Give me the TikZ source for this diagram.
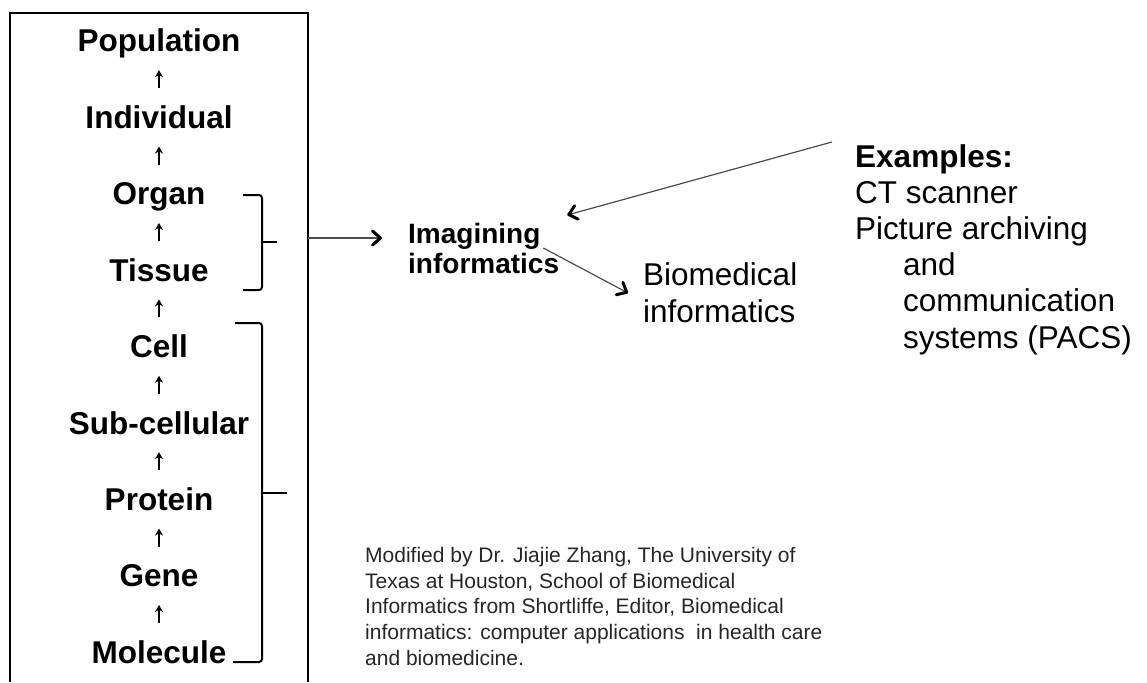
\documentclass[tikz,border=0pt]{standalone}
\usepackage{fontspec}
\setmainfont{Liberation Sans}
\usetikzlibrary{arrows.meta,calc}

\begin{document}
\begin{tikzpicture}[x=1pt,y=-1pt,
  level/.style={font=\fontsize{31.5}{36}\selectfont\bfseries, inner sep=0pt, anchor=base},
  uparrow/.style={line width=1.7pt, -{Stealth[length=7pt,width=8pt]}},
  brace/.style={line width=2pt, rounded corners=3pt},
  frame/.style={line width=2pt},
  link/.style={line width=1.2pt, draw=black!70,
    -{Straight Barb[length=8pt,width=14pt,line width=3pt,round,color=black]}},
  textblock/.style={anchor=north west, inner sep=0pt, align=left}
]
\useasboundingbox (0,0) rectangle (1147,682);
\fill[white] (0,0) rectangle (1147,682);

% open frame around the hierarchy
\draw[frame] (10,682) -- (10,13) -- (308,13) -- (308,682);

% levels of the hierarchy, top to bottom
\foreach \name/\txt [count=\i from 0] in
  {pop/Population, ind/Individual, org/Organ, tis/Tissue, cel/Cell,
   sub/Sub-cellular, pro/Protein, gen/Gene, mol/Molecule}
  \node[level] (\name) at (159,{52+76.4*\i}) {\txt};

% small arrows pointing up to the next level
\foreach \lo/\hi in {ind/pop, org/ind, tis/org, cel/tis, sub/cel,
                     pro/sub, gen/pro, mol/gen}
  \draw[uparrow] ($(\lo.base)!0.5!(\hi.base)+(0,-2)$)
              -- ($(\lo.base)!0.5!(\hi.base)+(0,-20)$);

% braces grouping levels
\draw[brace] (243,195) -- (262,195) -- (262,290) -- (243,290);
\draw[line width=2pt] (262,242) -- (277,242);
\draw[brace] (235,323) -- (262,323) -- (262,662) -- (233,662);
\draw[line width=2pt] (262,493) -- (287,493);

% text blocks
\node[textblock, font=\fontsize{28}{30}\selectfont\bfseries] (img) at (408,223)
  {Imagining\\informatics};
\node[textblock, font=\fontsize{31.5}{37}\selectfont] (bio) at (643,262)
  {Biomedical\\informatics};
\node[textblock, font=\fontsize{31.5}{36.2}\selectfont] (ex) at (855,144)
  {\textbf{Examples:}\\CT scanner\\Picture archiving\\
   \hspace*{48pt}and\\\hspace*{48pt}communication\\\hspace*{48pt}systems (PACS)};
\node[textblock, font=\fontsize{21}{25.7}\selectfont, text=black!85] (note) at (365,547)
  {Modified by Dr. Jiajie Zhang, The University of\\
   Texas at Houston, School of Biomedical\\
   Informatics from Shortliffe, Editor, Biomedical\\
   informatics: computer applications\ \ in health care\\
   and biomedicine.};

% connectors
\coordinate (boxR) at (308,238);
\draw[link, shorten >=26pt] (boxR) -- (img.west |- boxR);
\draw[link] ($(ex.north west)+(-23,-2)$) -- ($(img.north east)+(8,-8)$);
\draw[link] ($(img.north east)+(-16,25)$) -- ($(bio.north west)+(-15,31)$);
\end{tikzpicture}
\end{document}
